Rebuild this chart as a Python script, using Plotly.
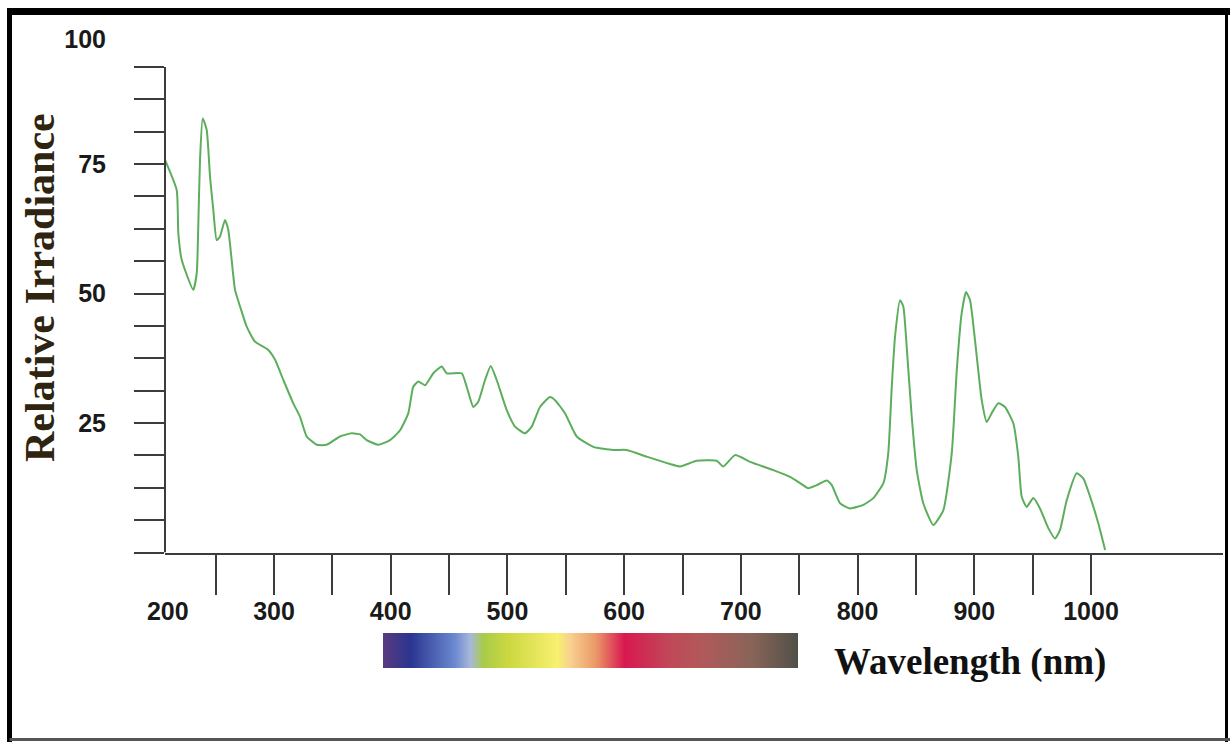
import plotly.graph_objects as go

# ---------------- data ----------------
wavelength_nm = [206.6, 216.6, 218.0, 220.9, 230.8, 233.8, 235.1, 236.6, 238.9, 242.3,
                 245.2, 248.0, 250.9, 253.7, 258.0, 260.8, 263.7, 266.6, 270.9, 276.6,
                 283.7, 295.1, 300.9, 308.0, 316.5, 322.3, 328.0, 336.6, 345.1, 356.5,
                 366.6, 373.7, 379.4, 389.4, 399.4, 408.0, 415.1, 419.3, 423.6, 429.4,
                 436.5, 443.7, 448.0, 460.8, 465.1, 470.8, 475.0, 480.8, 485.7, 490.8,
                 499.4, 506.5, 515.1, 520.8, 527.9, 536.5, 540.8, 549.3, 559.4, 573.6,
                 590.7, 602.2, 619.3, 639.3, 647.9, 662.2, 679.3, 685.0, 695.0, 707.9,
                 727.8, 742.1, 750.7, 757.8, 765.0, 773.6, 777.9, 785.0, 793.5, 804.9,
                 813.5, 822.1, 826.3, 829.3, 832.1, 836.4, 839.2, 842.1, 846.4, 850.7,
                 856.3, 864.9, 873.5, 880.7, 885.0, 889.2, 892.9, 896.4, 900.6, 906.4,
                 910.7, 914.9, 920.6, 926.3, 933.5, 937.7, 940.6, 944.9, 950.6, 956.3,
                 963.4, 969.2, 973.4, 979.2, 987.8, 993.4, 999.2, 1006.3, 1012.1]

relative_irradiance = [75.8, 70.0, 61.7, 56.5, 50.7, 54.0, 62.9, 75.8, 83.8, 81.6,
                       72.5, 66.1, 60.3, 61.0, 64.2, 62.3, 56.5, 50.7, 47.5, 43.6,
                       40.7, 39.1, 37.2, 33.3, 28.8, 26.2, 22.4, 20.8, 20.8, 22.4,
                       23.0, 22.8, 21.7, 20.8, 21.7, 23.6, 26.9, 32.0, 33.0, 32.3,
                       34.6, 35.9, 34.6, 34.6, 32.0, 28.1, 29.1, 33.3, 36.0, 33.3,
                       27.5, 24.3, 23.0, 24.3, 28.1, 30.0, 29.4, 26.9, 22.4, 20.4,
                       19.8, 19.8, 18.5, 17.1, 16.6, 17.7, 17.7, 16.6, 18.8, 17.5,
                       15.9, 14.6, 13.4, 12.4, 13.0, 13.9, 13.0, 9.5, 8.5, 9.2,
                       10.5, 13.4, 19.2, 32.0, 41.7, 48.7, 47.5, 39.7, 26.2, 15.9,
                       9.5, 5.3, 8.2, 19.2, 35.2, 46.2, 50.3, 48.7, 41.0, 29.4,
                       25.2, 26.9, 28.8, 28.1, 24.9, 18.5, 10.8, 8.8, 10.5, 8.5,
                       4.7, 2.7, 4.3, 10.1, 15.3, 14.3, 10.8, 5.6, 0.5]

y_tick_positions = [0, 6.25, 12.5, 18.75, 25, 31.25, 37.5, 43.75, 50, 56.25,
                    62.5, 68.75, 75, 81.25, 87.5, 93.75]
y_label_positions = [25, 50, 75, 99]
y_label_text = ["25", "50", "75", "100"]

x_tick_positions = [250, 300, 350, 400, 450, 500, 550, 600, 650, 700,
                    750, 800, 850, 900, 950, 1000]
x_label_positions = [209, 300, 400, 500, 600, 700, 800, 900, 1000]
x_label_text = ["200", "300", "400", "500", "600", "700", "800", "900", "1000"]

spectrum_pos = [0.0, 0.064, 0.17, 0.21, 0.24, 0.30, 0.42, 0.45, 0.51, 0.58,
                0.69, 0.77, 0.89, 1.0]
spectrum_colors = ["#5a3a80", "#2a3590", "#6a88d0", "#a8b8d8", "#a8cc48", "#ccd840",
                   "#f8f070", "#f8d090", "#ea9a68", "#d81850", "#c04858", "#b05a5a",
                   "#886458", "#505048"]

# ---------------- layout geometry ----------------
W, H = 1230, 742
AX_LEFT, AX_RIGHT = 165, 1223
Y0_PX, Y100_PX = 552.5, 34.5
X_RANGE = [206.6, 1113.1]
TICK_COLOR = "#3c3c3c"
tick_font = dict(family="Liberation Sans, Arial, sans-serif", size=25, color="#1a1a1a",
                 weight="bold")

fig = go.Figure()

fig.add_trace(go.Scatter(
    x=wavelength_nm, y=relative_irradiance, mode="lines",
    line=dict(color="#5cae5c", width=2, shape="spline", smoothing=0.5),
    hoverinfo="skip", showlegend=False, xaxis="x", yaxis="y"))

# invisible carriers so that the label-only overlay axes get drawn
fig.add_trace(go.Scatter(x=[x_label_positions[1]], y=[y_label_positions[0]], mode="markers",
                         marker=dict(opacity=0), hoverinfo="skip", showlegend=False,
                         xaxis="x2", yaxis="y"))
fig.add_trace(go.Scatter(x=[x_label_positions[1]], y=[y_label_positions[0]], mode="markers",
                         marker=dict(opacity=0), hoverinfo="skip", showlegend=False,
                         xaxis="x", yaxis="y2"))

# spectrum strip
fig.add_trace(go.Heatmap(
    x=spectrum_pos, y=[0], z=[spectrum_pos], zsmooth="best",
    colorscale=[[p, c] for p, c in zip(spectrum_pos, spectrum_colors)],
    zmin=0, zmax=1, showscale=False, hoverinfo="skip",
    xaxis="x3", yaxis="y3"))

xdom = [AX_LEFT / W, AX_RIGHT / W]
ydom = [(H - Y0_PX) / H, (H - Y100_PX) / H]

fig.update_layout(
    width=W, height=H,
    margin=dict(l=0, r=0, t=0, b=0),
    paper_bgcolor="white", plot_bgcolor="white",
    showlegend=False,
    xaxis=dict(domain=xdom, range=X_RANGE, showgrid=False, zeroline=False,
               showline=True, linecolor=TICK_COLOR, linewidth=2,
               tickmode="array", tickvals=x_tick_positions, showticklabels=False,
               ticks="outside", ticklen=40, tickwidth=2, tickcolor=TICK_COLOR,
               anchor="y", automargin=False),
    xaxis2=dict(domain=xdom, range=X_RANGE, overlaying="x", anchor="y", side="bottom",
                showgrid=False, zeroline=False, showline=False, ticks="",
                tickmode="array", tickvals=x_label_positions, ticktext=x_label_text,
                tickfont=tick_font, ticklabelstandoff=41, automargin=False),
    yaxis=dict(domain=ydom, range=[0, 100], showgrid=False, zeroline=False,
               showline=False, tickmode="array", tickvals=y_tick_positions,
               showticklabels=False, ticks="outside", ticklen=30, tickwidth=2,
               tickcolor=TICK_COLOR, anchor="x", automargin=False),
    yaxis2=dict(domain=ydom, range=[0, 100], overlaying="y", anchor="x", side="left",
                showgrid=False, zeroline=False, showline=False, ticks="",
                tickmode="array", tickvals=y_label_positions, ticktext=y_label_text,
                tickfont=tick_font, ticklabelstandoff=58, automargin=False),
    xaxis3=dict(domain=[383 / W, 798 / W], range=[0, 1], visible=False,
                anchor="y3", fixedrange=True),
    yaxis3=dict(domain=[(H - 668) / H, (H - 633) / H], range=[-0.5, 0.5],
                visible=False, anchor="x3", fixedrange=True),
)

# y axis line (stops at the top minor tick)
fig.add_shape(type="line", xref="paper", yref="y", x0=AX_LEFT / W, x1=AX_LEFT / W,
              y0=0, y1=y_tick_positions[-1], line=dict(color=TICK_COLOR, width=2))

# frame around the picture
fig.add_shape(type="line", xref="paper", yref="paper", x0=7 / W, x1=1.0,
              y0=(H - 11.5) / H, y1=(H - 11.5) / H, line=dict(color="black", width=7))
fig.add_shape(type="line", xref="paper", yref="paper", x0=9.5 / W, x1=9.5 / W,
              y0=(H - 8) / H, y1=0, line=dict(color="black", width=5))
fig.add_shape(type="line", xref="paper", yref="paper", x0=1226.5 / W, x1=1226.5 / W,
              y0=(H - 10) / H, y1=0, line=dict(color="black", width=3))
fig.add_shape(type="line", xref="paper", yref="paper", x0=9.5 / W, x1=1.0,
              y0=2.5 / H, y1=2.5 / H, line=dict(color="#555555", width=3))

# axis titles
fig.add_annotation(text="<b>Relative Irradiance</b>", textangle=-90,
                   xref="paper", yref="paper", x=40 / W, y=(H - 288) / H,
                   showarrow=False, xanchor="center", yanchor="middle",
                   font=dict(family="Liberation Serif, Times New Roman, serif",
                             size=42, color="#2e2410"))
fig.add_annotation(text="<b>Wavelength (nm)</b>",
                   xref="paper", yref="paper", x=832 / W, y=(H - 662) / H,
                   showarrow=False, xanchor="left", yanchor="middle",
                   font=dict(family="Liberation Serif, Times New Roman, serif",
                             size=37, color="#111111"))

fig.write_html("out.html")
